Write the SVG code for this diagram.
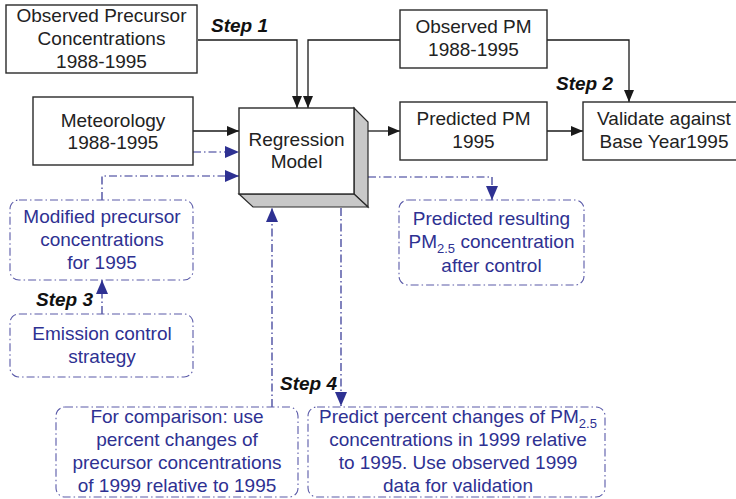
<svg xmlns="http://www.w3.org/2000/svg" width="736" height="499" viewBox="0 0 736 499">
<defs>
<marker id="ab" viewBox="0 0 12 10" refX="12" refY="5" markerWidth="12" markerHeight="10" markerUnits="userSpaceOnUse" orient="auto"><path d="M0,0 L12,5 L0,10 Z" fill="#1a1a1a"/></marker>
<marker id="au" viewBox="0 0 14 12" refX="14" refY="6" markerWidth="14" markerHeight="12" markerUnits="userSpaceOnUse" orient="auto"><path d="M0,0 L14,6 L0,12 Z" fill="#2e3192"/></marker>
</defs>
<style>
.bx{fill:#fff;stroke:#2a2a2a;stroke-width:1.4}
.db{fill:#fff;stroke:#5a5aa8;stroke-width:1.1;stroke-dasharray:8 3 1.5 3}
.t{font-family:"Liberation Sans",Arial,sans-serif;font-size:19px;fill:#222;text-anchor:middle}
.tb{font-family:"Liberation Sans",Arial,sans-serif;font-size:19px;fill:#2e3192;text-anchor:middle}
.st{font-family:"Liberation Sans",Arial,sans-serif;font-size:19px;font-weight:bold;font-style:italic;fill:#111}
.k{fill:none;stroke:#1a1a1a;stroke-width:1.3}
.b{fill:none;stroke:#2e3192;stroke-width:1.2;stroke-dasharray:8 3 1.5 3}
.sub{font-size:13px}
</style>
<g id="connectors">
<polyline class="k" points="198,40 297,40 297,108" marker-end="url(#ab)"/>
<polyline class="k" points="400,40 308,40 308,108" marker-end="url(#ab)"/>
<polyline class="k" points="547,40 629,40 629,102" marker-end="url(#ab)"/>
<line class="k" x1="193" y1="131" x2="239" y2="131" marker-end="url(#ab)"/>
<line class="k" x1="368" y1="131" x2="400" y2="131" marker-end="url(#ab)"/>
<line class="k" x1="547" y1="131" x2="583" y2="131" marker-end="url(#ab)"/>
<line class="b" x1="193" y1="152" x2="239" y2="152" marker-end="url(#au)"/>
<polyline class="b" points="102,200 102,176 239,176" marker-end="url(#au)"/>
<polyline class="b" points="368,177 492,177 492,200" marker-end="url(#au)"/>
<line class="b" x1="102" y1="314" x2="102" y2="280" marker-end="url(#au)"/>
<line class="b" x1="272" y1="407" x2="272" y2="208" marker-end="url(#au)"/>
<line class="b" x1="341" y1="208" x2="341" y2="406" marker-end="url(#au)"/>
</g>
<g id="step-labels">
<text class="st" x="211" y="32">Step 1</text>
<text class="st" x="556" y="90">Step 2</text>
<text class="st" x="36" y="306">Step 3</text>
<text class="st" x="280" y="390">Step 4</text>
</g>
<g id="observed-precursor">
<rect class="bx" x="6" y="5" width="191" height="68"/>
<text class="t" x="101.5" y="22">Observed Precursor</text>
<text class="t" x="101.5" y="45">Concentrations</text>
<text class="t" x="101.5" y="68">1988-1995</text>
</g>
<g id="observed-pm">
<rect class="bx" x="400" y="10" width="147" height="58"/>
<text class="t" x="473.5" y="33">Observed PM</text>
<text class="t" x="473.5" y="56">1988-1995</text>
</g>
<g id="meteorology">
<rect class="bx" x="33" y="97" width="160" height="68"/>
<text class="t" x="113" y="127">Meteorology</text>
<text class="t" x="113" y="149">1988-1995</text>
</g>
<g id="regression-model">
<polygon points="354,108 368,122 368,207 354,194" fill="#c8c8c8" stroke="#2a2a2a" stroke-width="1.2"/>
<polygon points="239,194 354,194 368,207 253,207" fill="#c8c8c8" stroke="#2a2a2a" stroke-width="1.2"/>
<rect class="bx" x="239" y="108" width="115" height="86"/>
<text class="t" x="296.5" y="146">Regression</text>
<text class="t" x="296.5" y="168">Model</text>
</g>
<g id="predicted-pm">
<rect class="bx" x="400" y="102" width="147" height="58"/>
<text class="t" x="473.5" y="125">Predicted PM</text>
<text class="t" x="473.5" y="148">1995</text>
</g>
<g id="validate">
<rect class="bx" x="583" y="102" width="160" height="58"/>
<text class="t" x="664" y="125">Validate against</text>
<text class="t" x="664" y="148">Base Year1995</text>
</g>
<g id="modified-precursor">
<rect class="db" x="10" y="200" width="183" height="80" rx="9"/>
<text class="tb" x="102" y="223">Modified precursor</text>
<text class="tb" x="102" y="246">concentrations</text>
<text class="tb" x="102" y="269">for 1995</text>
</g>
<g id="emission-control">
<rect class="db" x="10" y="314" width="183" height="63" rx="9"/>
<text class="tb" x="102" y="340">Emission control</text>
<text class="tb" x="102" y="363">strategy</text>
</g>
<g id="predicted-resulting">
<rect class="db" x="399" y="200" width="185" height="85" rx="9"/>
<text class="tb" x="491.5" y="225">Predicted resulting</text>
<text class="tb" x="491.5" y="248">PM<tspan class="sub" dy="5">2.5</tspan><tspan dy="-5"> concentration</tspan></text>
<text class="tb" x="491.5" y="272">after control</text>
</g>
<g id="for-comparison">
<rect class="db" x="56" y="407" width="242" height="90" rx="9"/>
<text class="tb" x="177" y="423">For comparison: use</text>
<text class="tb" x="177" y="446">percent changes of</text>
<text class="tb" x="177" y="469">precursor concentrations</text>
<text class="tb" x="177" y="492">of 1999 relative to 1995</text>
</g>
<g id="predict-percent">
<rect class="db" x="308" y="407" width="297" height="90" rx="9"/>
<text class="tb" x="458" y="423">Predict percent changes of PM<tspan class="sub" dy="5">2.5</tspan></text>
<text class="tb" x="458" y="446">concentrations in 1999 relative</text>
<text class="tb" x="458" y="469">to 1995. Use observed 1999</text>
<text class="tb" x="458" y="492">data for validation</text>
</g>
</svg>
